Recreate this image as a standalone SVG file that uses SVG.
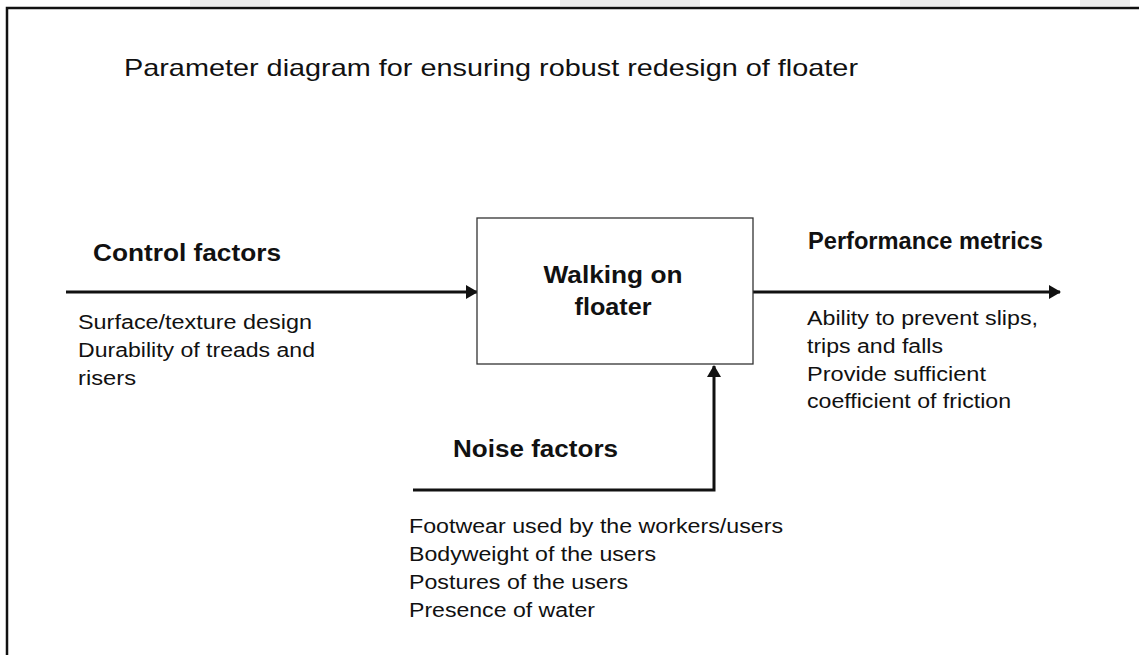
<svg xmlns="http://www.w3.org/2000/svg" width="1139" height="655" viewBox="0 0 1139 655">
<defs>
<style>
.t{font-family:"Liberation Sans",Arial,sans-serif;fill:#111;}
.b{font-weight:bold;font-size:23px;}
.r{font-size:20px;}
.ln{stroke:#111;stroke-width:3;fill:none;}
</style>
<marker id="ah" markerUnits="userSpaceOnUse" markerWidth="12" markerHeight="14" refX="11" refY="7" orient="auto">
<path d="M0,0 L12,7 L0,14 Z" fill="#111"/>
</marker>
</defs>
<rect width="1139" height="655" fill="#fff"/>
<g id="watermark" fill="#ececec">
<rect x="190" y="0" width="80" height="6"/>
<rect x="560" y="0" width="140" height="6"/>
<rect x="900" y="0" width="60" height="6"/>
<rect x="1080" y="0" width="50" height="6"/>
</g>
<path d="M7,655 V8 H1139" stroke="#111" stroke-width="2.5" fill="none"/>
<text id="title" class="t" x="124" y="76" font-size="24" textLength="734" lengthAdjust="spacingAndGlyphs">Parameter diagram for ensuring robust redesign of floater</text>
<g id="connectors">
<line class="ln" x1="66" y1="292" x2="477" y2="292" marker-end="url(#ah)"/>
<line class="ln" x1="753" y1="292" x2="1060" y2="292" marker-end="url(#ah)"/>
<polyline class="ln" points="413,490 714,490 714,366" marker-end="url(#ah)"/>
</g>
<g id="process">
<rect x="477" y="218" width="276" height="146" fill="#fff" stroke="#333" stroke-width="1.3"/>
<text class="t b" x="613" y="283" text-anchor="middle" textLength="139" lengthAdjust="spacingAndGlyphs">Walking on</text>
<text class="t b" x="613" y="315" text-anchor="middle" textLength="77" lengthAdjust="spacingAndGlyphs">floater</text>
</g>
<g id="control">
<text class="t b" x="93" y="261" textLength="188" lengthAdjust="spacingAndGlyphs">Control factors</text>
<text class="t r" x="78" y="329" textLength="234" lengthAdjust="spacingAndGlyphs">Surface/texture design</text>
<text class="t r" x="78" y="357" textLength="237" lengthAdjust="spacingAndGlyphs">Durability of treads and</text>
<text class="t r" x="78" y="385" textLength="58" lengthAdjust="spacingAndGlyphs">risers</text>
</g>
<g id="performance">
<text class="t b" x="808" y="249" textLength="235" lengthAdjust="spacingAndGlyphs">Performance metrics</text>
<text class="t r" x="807" y="325" textLength="231" lengthAdjust="spacingAndGlyphs">Ability to prevent slips,</text>
<text class="t r" x="807" y="353" textLength="136" lengthAdjust="spacingAndGlyphs">trips and falls</text>
<text class="t r" x="807" y="381" textLength="179" lengthAdjust="spacingAndGlyphs">Provide sufficient</text>
<text class="t r" x="807" y="408" textLength="204" lengthAdjust="spacingAndGlyphs">coefficient of friction</text>
</g>
<g id="noise">
<text class="t b" x="453" y="457" textLength="165" lengthAdjust="spacingAndGlyphs">Noise factors</text>
<text class="t r" x="409" y="533" textLength="374" lengthAdjust="spacingAndGlyphs">Footwear used by the workers/users</text>
<text class="t r" x="409" y="561" textLength="247" lengthAdjust="spacingAndGlyphs">Bodyweight of the users</text>
<text class="t r" x="409" y="589" textLength="219" lengthAdjust="spacingAndGlyphs">Postures of the users</text>
<text class="t r" x="409" y="617" textLength="186" lengthAdjust="spacingAndGlyphs">Presence of water</text>
</g>
</svg>
